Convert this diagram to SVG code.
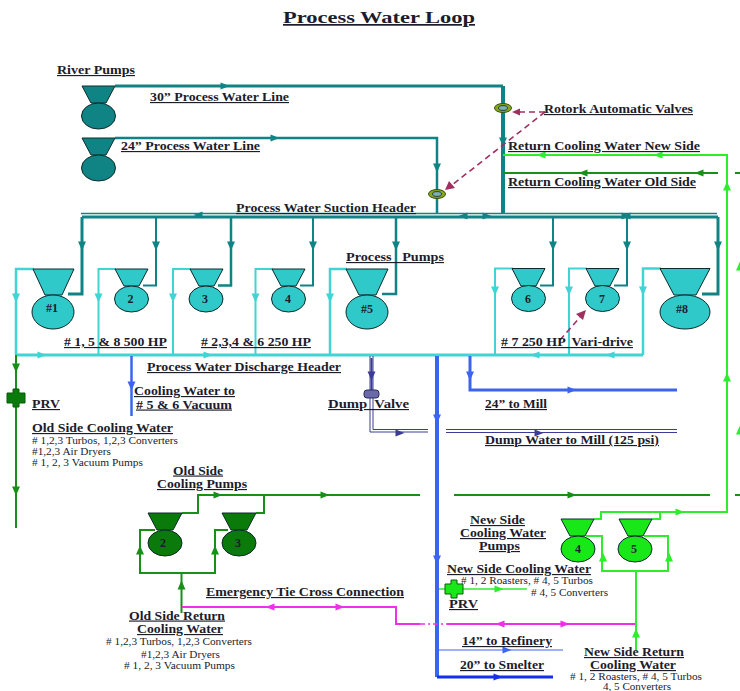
<svg xmlns="http://www.w3.org/2000/svg" width="740" height="691" viewBox="0 0 740 691">
<style>
text{font-family:"Liberation Serif","Times New Roman",serif;fill:#1c1c2c}
.l{font-size:11.500px;font-weight:bold;text-decoration:underline}
.s{font-size:10px}
.n{font-size:12px;font-weight:bold;text-anchor:middle}
.t{font-size:17px;font-weight:bold;text-decoration:underline}
.pump{stroke:#0d2a2a;stroke-width:1}
.tl{fill:#108484}.cy{fill:#2fc9c9}.dg{fill:#0a7a0a}.bg{fill:#18e818}
.c-tl,.c-cy,.c-dg,.c-bg,.c-bl,.c-pu,.c-mg,.c-db,.dash{fill:none}
.c-tl{stroke:#108484}.c-cy{stroke:#40d4d4}.c-dg{stroke:#169016}.c-bg{stroke:#2cee2c}.c-bl{stroke:#3c64ee}.c-pu{stroke:#3c3c96}.c-mg{stroke:#f030e8}.c-db{stroke:#1430e8}
.f-tl{fill:#108484}.f-cy{fill:#40d4d4}.f-dg{fill:#169016}.f-bg{fill:#2cee2c}.f-bl{fill:#3c64ee}.f-pu{fill:#3c3c96}.f-mg{fill:#f030e8}.f-db{fill:#1430e8}
.dash{stroke:#a03060;stroke-width:1.600;stroke-dasharray:6 4}
</style>
<defs>
<path id="r" d="M-4.500,-3.500 L4.500,0 L-4.500,3.500 Z"/>
<path id="l" d="M4.500,-3.500 L-4.500,0 L4.500,3.500 Z"/>
<path id="d" d="M-4,-4.500 L4,-4.500 L0,4.500 Z"/>
<path id="u" d="M-4,4.500 L4,4.500 L0,-4.500 Z"/>
<g id="valve"><ellipse rx="8.500" ry="4.500" fill="#8ca818" stroke="#33500f" stroke-width="1"/><ellipse rx="4.500" ry="2.400" fill="#7fb0b0" stroke="#204040" stroke-width="1"/></g>
<path id="prv" d="M-3,-9 H3 V-5 H9 V5 H3 V9 H-3 V5 H-9 V-5 H-3 Z"/>
</defs>
<g id="connectors">
<g class="f-tl">
<path class="c-tl" stroke-width="3" d="M115,86 H503"/>
<path class="c-tl" stroke-width="4" d="M503,86 V214"/>
<path class="c-tl" stroke-width="2.500" d="M115,138 H437 V214"/>
<path class="c-tl" stroke-width="1.500" d="M81,213.500 H717"/>
<path class="c-tl" stroke-width="3" d="M82,217 H718"/>
<path class="c-tl" stroke-width="3" d="M82,217 V294 H68"/>
<path class="c-tl" stroke-width="2" d="M156,217 V285.500 H143"/>
<path class="c-tl" stroke-width="2.500" d="M231,217 V285.500 H218"/>
<path class="c-tl" stroke-width="2" d="M313,217 V285.500 H300"/>
<path class="c-tl" stroke-width="2.500" d="M396,217 V294 H382"/>
<path class="c-tl" stroke-width="2" d="M553,217 V285.500 H540"/>
<path class="c-tl" stroke-width="2" d="M627,217 V285.500 H614"/>
<path class="c-tl" stroke-width="3" d="M718,217 V294 H702"/>
<use href="#r" x="225" y="86"/><use href="#r" x="275" y="138"/>
<use href="#d" x="503" y="142"/><use href="#d" x="437" y="168"/>
<use href="#l" x="198" y="215"/><use href="#l" x="463" y="216"/><use href="#r" x="487" y="216"/><use href="#l" x="626" y="216"/><use href="#r" x="626" y="216"/>
<use href="#d" x="82" y="246"/><use href="#d" x="156" y="246"/><use href="#d" x="231" y="246"/><use href="#d" x="313" y="246"/><use href="#d" x="396" y="246"/><use href="#d" x="553" y="246"/><use href="#d" x="627" y="246"/><use href="#d" x="718" y="246"/>
</g>
<g class="f-cy">
<path class="c-cy" stroke-width="3" d="M16,355 H643"/>
<path class="c-cy" stroke-width="2.500" d="M16,355 V269 H34"/>
<path class="c-cy" stroke-width="2" d="M98.500,355 V269 H116"/>
<path class="c-cy" stroke-width="2" d="M173,355 V269 H191"/>
<path class="c-cy" stroke-width="2" d="M255.500,355 V269 H273"/>
<path class="c-cy" stroke-width="2.500" d="M330,355 V269 H347"/>
<path class="c-cy" stroke-width="2" d="M495,355 V268.500 H513"/>
<path class="c-cy" stroke-width="2" d="M569,355 V268.500 H587"/>
<path class="c-cy" stroke-width="2.500" d="M643,355 V268.500 H661"/>
<use href="#d" x="16" y="298"/><use href="#d" x="98.500" y="298"/><use href="#d" x="173" y="298"/><use href="#d" x="255.500" y="298"/><use href="#d" x="330" y="298"/><use href="#d" x="495" y="291"/><use href="#d" x="569" y="291"/><use href="#d" x="643" y="291"/>
<use href="#r" x="42" y="355"/><use href="#r" x="208" y="355"/><use href="#l" x="535" y="355"/><use href="#l" x="610" y="355"/>
</g>
<g class="f-dg">
<path class="c-dg" stroke-width="2" d="M16,355 V528"/>
<use href="#d" x="16" y="368"/><use href="#d" x="16" y="491"/>
<path class="c-dg" stroke-width="2" d="M182,513 H198 V495 H420"/>
<path class="c-dg" stroke-width="2" d="M256,513 H264 V495"/>
<path class="c-dg" stroke-width="2" d="M454,495 H710 M735,495 H740"/>
<path class="c-dg" stroke-width="2" d="M503,173 H718 M735,173 H740"/>
<path class="c-dg" stroke-width="2" d="M155,530 H140 V573 H215 V530 H228"/>
<path class="c-dg" stroke-width="2" d="M181.500,573 V613"/>
<use href="#r" x="218" y="495"/><use href="#r" x="325" y="495"/><use href="#r" x="572" y="495"/><use href="#l" x="583" y="173"/><use href="#l" x="699" y="173"/>
<use href="#u" x="140" y="550"/><use href="#u" x="215" y="550"/><use href="#u" x="181.500" y="585"/>
</g>
<g class="f-bg">
<path class="c-bg" stroke-width="2" d="M503,155 H727 V512 H601 V519 H594"/>
<path class="c-bg" stroke-width="2" d="M652,519 H660 V512"/>
<path class="c-bg" stroke-width="2" d="M586,536 H602 V571 H668 V536 H644"/>
<path class="c-bg" stroke-width="2" d="M636,571 V650"/>
<path class="c-bg" stroke-width="1.500" d="M437,589 H527"/>
<use href="#l" x="541" y="155"/><use href="#l" x="658" y="155"/><use href="#u" x="727" y="186"/><use href="#u" x="727" y="377"/><use href="#r" x="680" y="512"/>
<use href="#u" x="603" y="557"/><use href="#u" x="669" y="557"/><use href="#u" x="636" y="633"/><use href="#r" x="499" y="589"/>
<use href="#u" x="740" y="266"/><use href="#u" x="740" y="430"/>
</g>
<g class="f-bl">
<path class="c-bl" stroke-width="2.500" d="M131.500,356 V416"/>
<path class="c-bl" stroke-width="3" d="M470,356 V390 H677"/>
<path class="c-bl" stroke-width="4" d="M437,356 V677"/>
<path class="c-bl" stroke-width="1.200" d="M437,650 H563"/>
<use href="#d" x="131.500" y="386"/><use href="#d" x="470" y="376"/><use href="#d" x="437" y="419"/><use href="#d" x="437" y="560"/><use href="#r" x="572" y="390"/><use href="#r" x="507" y="650"/>
</g>
<g class="f-pu">
<path class="c-pu" stroke-width="1" d="M370,356 V432 H428 M373,356 V429.500 H428 M446,432.500 H677 M446,429.500 H677"/>
<path class="c-pu" stroke-width="2" d="M371.500,358 V392"/>
<use href="#d" x="371.500" y="376"/><use href="#r" x="400" y="433"/><use href="#r" x="539" y="433"/>
</g>
<g class="f-mg">
<path class="c-mg" stroke-width="2" d="M182,607 H396 V624 H420"/>
<path class="c-mg" stroke-width="1.500" stroke-dasharray="5 3 2 3" d="M420,624 H447"/>
<path class="c-mg" stroke-width="2" d="M447,624 H635"/>
<use href="#l" x="270" y="607"/><use href="#r" x="340" y="607"/><use href="#l" x="500" y="624"/><use href="#r" x="565" y="624"/>
</g>
<g class="f-db">
<path class="c-db" stroke-width="3" d="M437,677 H553"/>
<use href="#r" x="498" y="677"/>
</g>
<g fill="#a03060">
<path class="dash" d="M545,112 H518"/>
<path class="dash" d="M545,112 L452,185"/>
<path class="dash" d="M560,340 L581,316"/>
<path d="M512,112 L520,108.500 V115.500 Z"/>
<path d="M445,190 L449,181 L455,188 Z"/>
<path d="M586,310 L583,320 L576,314 Z"/>
</g>
</g>
<g id="pump-river-1"><path class="pump tl" d="M82,86 H115 L106,103 H91 Z"/><ellipse class="pump tl" cx="98.500" cy="116" rx="17" ry="13"/></g>
<g id="pump-river-2"><path class="pump tl" d="M82,138 H115 L106,155 H91 Z"/><ellipse class="pump tl" cx="98.500" cy="168" rx="17" ry="13"/></g>
<g id="pump-1"><path class="pump cy" d="M33,269 H74 L62,295 H45 Z"/><ellipse class="pump cy" cx="53" cy="312" rx="21" ry="17"/><text class="n" x="52" y="312">#1</text></g>
<g id="pump-2"><path class="pump cy" d="M115,269 H148 L139,286 H124 Z"/><ellipse class="pump cy" cx="131.500" cy="299" rx="17" ry="13"/><text class="n" x="130.500" y="303">2</text></g>
<g id="pump-3"><path class="pump cy" d="M190,269 H223 L214,286 H199 Z"/><ellipse class="pump cy" cx="206" cy="299" rx="17" ry="13"/><text class="n" x="205" y="303">3</text></g>
<g id="pump-4"><path class="pump cy" d="M272,269 H305 L296,286 H281 Z"/><ellipse class="pump cy" cx="288.500" cy="299" rx="17" ry="13"/><text class="n" x="288" y="303">4</text></g>
<g id="pump-5"><path class="pump cy" d="M346,269 H388 L376,295 H359 Z"/><ellipse class="pump cy" cx="367" cy="312" rx="21" ry="17"/><text class="n" x="367" y="313">#5</text></g>
<g id="pump-6"><path class="pump cy" d="M512,268.500 H545 L536,286 H521 Z"/><ellipse class="pump cy" cx="528.500" cy="298.500" rx="17" ry="13"/><text class="n" x="528" y="303">6</text></g>
<g id="pump-7"><path class="pump cy" d="M586,268.500 H619 L610,286 H595 Z"/><ellipse class="pump cy" cx="602.500" cy="298.500" rx="17" ry="13"/><text class="n" x="602" y="303">7</text></g>
<g id="pump-8"><path class="pump cy" d="M660,268.500 H710 L696,295 H674 Z"/><ellipse class="pump cy" cx="685" cy="312" rx="25" ry="17"/><text class="n" x="682" y="313">#8</text></g>
<g id="pump-old-2"><path class="pump dg" d="M148,513 H182 L173,530 H157 Z"/><ellipse class="pump dg" cx="165" cy="543" rx="17" ry="13"/><text class="n" x="163" y="547">2</text></g>
<g id="pump-old-3"><path class="pump dg" d="M222,513 H256 L247,530 H231 Z"/><ellipse class="pump dg" cx="239" cy="543" rx="17" ry="13"/><text class="n" x="238" y="547">3</text></g>
<g id="pump-new-4"><path class="pump bg" d="M561,519 H594 L585,536 H570 Z"/><ellipse class="pump bg" cx="578" cy="549" rx="17" ry="13"/><text class="n" x="578" y="553">4</text></g>
<g id="pump-new-5"><path class="pump bg" d="M619,519 H652 L643,536 H628 Z"/><ellipse class="pump bg" cx="635" cy="549" rx="17" ry="13"/><text class="n" x="634" y="553">5</text></g>
<g id="valve-rotork-1"><use href="#valve" x="503" y="108"/></g>
<g id="valve-rotork-2"><use href="#valve" x="437" y="194"/></g>
<g id="valve-prv-old"><use href="#prv" x="16" y="398" fill="#0a7a0a" stroke="#0a5a0a"/></g>
<g id="valve-prv-new"><use href="#prv" x="454" y="589" fill="#18e818" stroke="#0c5a0c"/></g>
<g id="valve-dump"><rect x="364" y="390" width="15" height="8" rx="3" fill="#6a6aa8" stroke="#2a2a60"/></g>
<g id="labels">
<text class="t" x="283" y="23" textLength="192" lengthAdjust="spacingAndGlyphs">Process  Water Loop</text>
<text class="l" x="57" y="74" textLength="78" lengthAdjust="spacingAndGlyphs">River Pumps</text>
<text class="l" x="150" y="101" textLength="139" lengthAdjust="spacingAndGlyphs">30” Process Water Line</text>
<text class="l" x="121" y="150" textLength="139" lengthAdjust="spacingAndGlyphs">24” Process Water Line</text>
<text class="l" x="236" y="212" textLength="180" lengthAdjust="spacingAndGlyphs">Process Water Suction Header</text>
<text class="l" x="346" y="261" textLength="98" lengthAdjust="spacingAndGlyphs" xml:space="preserve">Process   Pumps</text>
<text class="l" x="544" y="113" textLength="149" lengthAdjust="spacingAndGlyphs">Rotork Automatic Valves</text>
<text class="l" x="508" y="150" textLength="192" lengthAdjust="spacingAndGlyphs">Return Cooling Water New Side</text>
<text class="l" x="508" y="186" textLength="188" lengthAdjust="spacingAndGlyphs">Return Cooling Water Old Side</text>
<text class="l" x="64" y="346" textLength="103" lengthAdjust="spacingAndGlyphs"># 1, 5 &amp; 8 500 HP</text>
<text class="l" x="201" y="346" textLength="110" lengthAdjust="spacingAndGlyphs"># 2,3,4 &amp; 6 250 HP</text>
<text class="l" x="501" y="346" textLength="132" lengthAdjust="spacingAndGlyphs" xml:space="preserve"># 7 250 HP  Vari-drive</text>
<text class="l" x="147" y="371" textLength="194" lengthAdjust="spacingAndGlyphs">Process Water Discharge Header</text>
<text class="l" x="134" y="395" textLength="101" lengthAdjust="spacingAndGlyphs">Cooling Water to</text>
<text class="l" x="136" y="408.500" textLength="96" lengthAdjust="spacingAndGlyphs"># 5 &amp; 6 Vacuum</text>
<text class="l" x="32" y="408" textLength="28" lengthAdjust="spacingAndGlyphs">PRV</text>
<text class="l" x="328" y="408" textLength="81" lengthAdjust="spacingAndGlyphs" xml:space="preserve">Dump  Valve</text>
<text class="l" x="485" y="408" textLength="62" lengthAdjust="spacingAndGlyphs">24” to Mill</text>
<text class="l" x="485" y="444" textLength="174" lengthAdjust="spacingAndGlyphs">Dump Water to Mill (125 psi)</text>
<text class="l" x="32" y="432" textLength="141" lengthAdjust="spacingAndGlyphs">Old Side Cooling Water</text>
<text class="s" x="32" y="444" textLength="146" lengthAdjust="spacingAndGlyphs"># 1,2,3 Turbos, 1,2,3 Converters</text>
<text class="s" x="32" y="455" textLength="79" lengthAdjust="spacingAndGlyphs">#1,2,3 Air Dryers</text>
<text class="s" x="32" y="466" textLength="111" lengthAdjust="spacingAndGlyphs"># 1, 2, 3 Vacuum Pumps</text>
<text class="l" x="173" y="474.500" textLength="50" lengthAdjust="spacingAndGlyphs">Old Side</text>
<text class="l" x="157" y="488" textLength="90" lengthAdjust="spacingAndGlyphs">Cooling Pumps</text>
<text class="l" x="206" y="596" textLength="198" lengthAdjust="spacingAndGlyphs">Emergency Tie Cross Connection</text>
<text class="l" x="129" y="619.500" textLength="96" lengthAdjust="spacingAndGlyphs">Old Side Return</text>
<text class="l" x="137" y="633" textLength="86" lengthAdjust="spacingAndGlyphs">Cooling Water</text>
<text class="s" x="106" y="645" textLength="146" lengthAdjust="spacingAndGlyphs"># 1,2,3 Turbos, 1,2,3 Converters</text>
<text class="s" x="141" y="658" textLength="79" lengthAdjust="spacingAndGlyphs">#1,2,3 Air Dryers</text>
<text class="s" x="124" y="669" textLength="111" lengthAdjust="spacingAndGlyphs"># 1, 2, 3 Vacuum Pumps</text>
<text class="l" x="470" y="524" textLength="55" lengthAdjust="spacingAndGlyphs">New Side</text>
<text class="l" x="460" y="537" textLength="86" lengthAdjust="spacingAndGlyphs">Cooling Water</text>
<text class="l" x="479" y="550" textLength="41" lengthAdjust="spacingAndGlyphs">Pumps</text>
<text class="l" x="447" y="573" textLength="144" lengthAdjust="spacingAndGlyphs">New Side Cooling Water</text>
<text class="s" x="461" y="584" textLength="132" lengthAdjust="spacingAndGlyphs"># 1, 2 Roasters, # 4, 5 Turbos</text>
<text class="s" x="531" y="596" textLength="77" lengthAdjust="spacingAndGlyphs"># 4, 5 Converters</text>
<text class="l" x="449" y="608" textLength="29" lengthAdjust="spacingAndGlyphs">PRV</text>
<text class="l" x="462" y="645" textLength="90" lengthAdjust="spacingAndGlyphs">14” to Refinery</text>
<text class="l" x="460" y="669" textLength="84" lengthAdjust="spacingAndGlyphs">20” to Smelter</text>
<text class="l" x="584" y="656" textLength="100" lengthAdjust="spacingAndGlyphs">New Side Return</text>
<text class="l" x="590" y="669" textLength="86" lengthAdjust="spacingAndGlyphs">Cooling Water</text>
<text class="s" x="570" y="680" textLength="132" lengthAdjust="spacingAndGlyphs"># 1, 2 Roasters, # 4, 5 Turbos</text>
<text class="s" x="603" y="690" textLength="68" lengthAdjust="spacingAndGlyphs">4, 5 Converters</text>
</g>
</svg>
